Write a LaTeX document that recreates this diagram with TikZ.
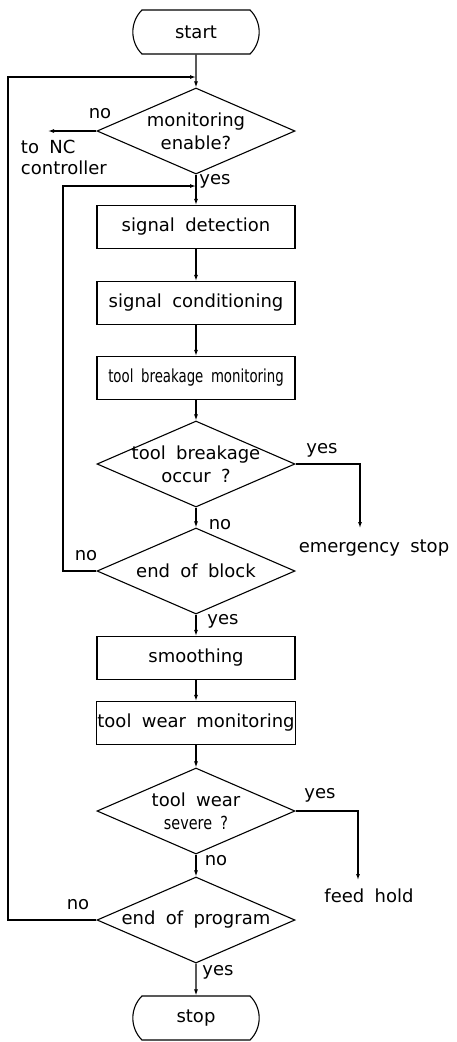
\documentclass[tikz,border=0pt]{standalone}
\usepackage{fontspec}
\setmainfont{DejaVu Sans}[WordSpace=1.8]
\usepackage{graphicx}
\usepackage{tikz}
\usetikzlibrary{shapes.geometric,shapes.misc,arrows.meta}

\tikzset{
  flowline/.style={line width=1.1pt},
  arrowline/.style={flowline,-{Latex[length=6pt,width=4pt]}},
  stepbox/.style={draw,line width=1.1pt,minimum width=198pt,minimum height=43pt,inner sep=1pt,font=\fontsize{18}{21}\selectfont},
  decision/.style={draw,diamond,line width=1.1pt,minimum width=198pt,minimum height=86pt,aspect=2.3,inner sep=0pt},
  decisiontext/.style={inner sep=0pt,align=center,font=\fontsize{18}{23}\selectfont},
  terminal/.style={draw,rounded rectangle,rounded rectangle arc length=90,line width=1.1pt,minimum width=133pt,minimum height=44pt,font=\fontsize{18}{21}\selectfont},
  textlabel/.style={inner sep=0.75pt,font=\fontsize{18}{21}\selectfont},
}

\begin{document}
\begin{tikzpicture}[x=1pt,y=1pt,yscale=-1,xscale=1]
\useasboundingbox (0,0) rectangle (456,1042);
%Shape: Terminal [start]
\node [terminal] (start) at (196,32) {start};
%Shape: Diamond [monitoring enable]
\node [decision,label={[decisiontext]center:monitoring\\enable?}] (enable) at (196,131) {};
%Shape: Rectangle [detection, conditioning, breakage]
\node [stepbox] (detect) at (196,227) {signal detection};
\node [stepbox] (cond) at (196,303) {signal conditioning};
\node [stepbox] (breakmon) at (196,378) {\scalebox{0.74}[1]{tool breakage monitoring}};
%Shape: Diamond [breakage, end of block]
\node [decision,label={[decisiontext]center:tool breakage\\occur ?}] (breakq) at (196,464) {};
\node [decision,label={[decisiontext]center:end of block}] (blockq) at (196,571) {};
%Shape: Rectangle [smoothing, wear]
\node [stepbox] (smooth) at (196,658) {smoothing};
\node [stepbox] (wearmon) at (196,723) {tool wear monitoring};
%Shape: Diamond [wear, end of program]
\node [decision,label={[decisiontext]center:tool wear\\\scalebox{0.8}[1]{severe ?}}] (wearq) at (196,811) {};
\node [decision,label={[decisiontext]center:end of program}] (progq) at (196,920) {};
%Shape: Terminal [stop]
\node [terminal] (stop) at (196,1018) {stop};

% Free ends of the connectors
\coordinate (topjoin) at (196,77);
\coordinate (outer) at (8,77);
\coordinate (innerjoin) at (196,186);
\coordinate (inner) at (63,186);
\coordinate (nc) at (48,131);
\coordinate (emerg) at (360,528);
\coordinate (feed) at (358,880);

% Text Node
\node [textlabel] (ncno) at (100,114) {no};
\node [textlabel,anchor=north west,align=left] (nctext) at (20,139) {to NC\\controller};
\node [textlabel] (enableyes) at (215,181) {yes};
\node [textlabel] (breakyes) at (322,450) {yes};
\node [textlabel] (emergtext) at (374,548) {emergency stop};
\node [textlabel] (breakno) at (220,525) {no};
\node [textlabel] (blockno) at (86,556) {no};
\node [textlabel] (blockyes) at (223,621) {yes};
\node [textlabel] (wearyes) at (320,795) {yes};
\node [textlabel] (feedtext) at (369,896) {feed hold};
\node [textlabel] (wearno) at (216,861) {no};
\node [textlabel] (progno) at (78,905) {no};
\node [textlabel] (progyes) at (218,972) {yes};

%Straight Lines [main flow]
\draw [arrowline] (start) -- (enable);
\draw [arrowline] (enable) -- (detect);
\draw [arrowline] (detect) -- (cond);
\draw [arrowline] (cond) -- (breakmon);
\draw [arrowline] (breakmon) -- (breakq);
\draw [arrowline] (breakq) -- (blockq);
\draw [arrowline] (blockq) -- (smooth);
\draw [arrowline] (smooth) -- (wearmon);
\draw [arrowline] (wearmon) -- (wearq);
\draw [arrowline] (wearq) -- (progq);
\draw [arrowline] (progq) -- (stop);
%Straight Lines [branches]
\draw [arrowline] (enable.west) -- (nc);
\draw [arrowline] (breakq.east) -| (emerg);
\draw [arrowline] (wearq.east) -| (feed);
%Straight Lines [loops]
\draw [arrowline] (blockq.west) -| (inner) -- (innerjoin);
\draw [arrowline] (progq.west) -| (outer) -- (topjoin);
\end{tikzpicture}
\end{document}
